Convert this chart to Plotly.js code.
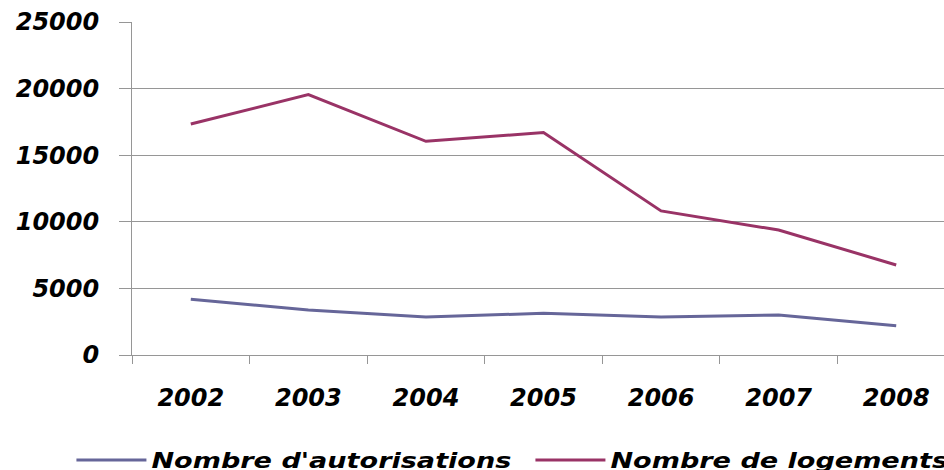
<!DOCTYPE html>
<html>
<head>
<meta charset="utf-8">
<script src="https://cdn.plot.ly/plotly-3.0.1.min.js"></script>
<style>
html, body { margin: 0; padding: 0; overflow: hidden; background: #fff; }
#chart { width: 1052px; height: 470px; }
.legendtext { transform-box: fill-box; transform-origin: left center; transform: scaleX(1.29); }
</style>
</head>
<body>
<div id="chart"></div>
<script>
const years = ['2002', '2003', '2004', '2005', '2006', '2007', '2008'];
const autorisations = [4180, 3380, 2850, 3130, 2850, 3000, 2200];
const logements = [17340, 19550, 16040, 16700, 10820, 9380, 6760];
const seriesNames = ["Nombre d'autorisations", "Nombre de logements"];
const yTicks = [0, 5000, 10000, 15000, 20000, 25000];

const fontFamily = 'DejaVu Sans, Verdana, sans-serif';

const traces = [
  {
    x: years, y: autorisations, name: seriesNames[0], type: 'scatter', mode: 'lines',
    line: { color: '#666699', width: 3 }
  },
  {
    x: years, y: logements, name: seriesNames[1], type: 'scatter', mode: 'lines',
    line: { color: '#993366', width: 3 }
  }
];

const layout = {
  width: 1052, height: 470,
  margin: { l: 132, r: 97, t: 22, b: 115, pad: 0, autoexpand: false },
  paper_bgcolor: '#ffffff', plot_bgcolor: '#ffffff',
  showlegend: true,
  legend: {
    orientation: 'h', xref: 'paper', x: -0.0736, xanchor: 'left',
    yref: 'paper', y: -0.255, yanchor: 'top',
    font: { family: fontFamily, size: 21, weight: 'bold', style: 'italic', color: '#000' },
    itemwidth: 70, entrywidth: 374, entrywidthmode: 'pixels', traceorder: 'normal'
  },
  xaxis: {
    type: 'category', range: [-0.5, 6.5], tickson: 'boundaries', tickangle: 0,
    showgrid: false, showline: true, linecolor: '#969696', linewidth: 1,
    ticks: 'outside', ticklen: 8, tickcolor: '#969696', tickwidth: 1,
    ticklabelstandoff: 21, automargin: false,
    tickfont: { family: fontFamily, size: 24, weight: 'bold', style: 'italic', color: '#000' },
    zeroline: false, fixedrange: true
  },
  yaxis: {
    range: [0, 25000], tickvals: yTicks, ticktext: yTicks.map(String),
    showgrid: true, gridcolor: '#969696', gridwidth: 1,
    showline: true, linecolor: '#969696', linewidth: 1,
    ticks: 'outside', ticklen: 12, tickcolor: '#969696', tickwidth: 1,
    ticklabelstandoff: 15, automargin: false,
    tickfont: { family: fontFamily, size: 24, weight: 'bold', style: 'italic', color: '#000' },
    zeroline: false, fixedrange: true
  }
};

Plotly.newPlot('chart', traces, layout, { displayModeBar: false, staticPlot: true });
</script>
</body>
</html>
